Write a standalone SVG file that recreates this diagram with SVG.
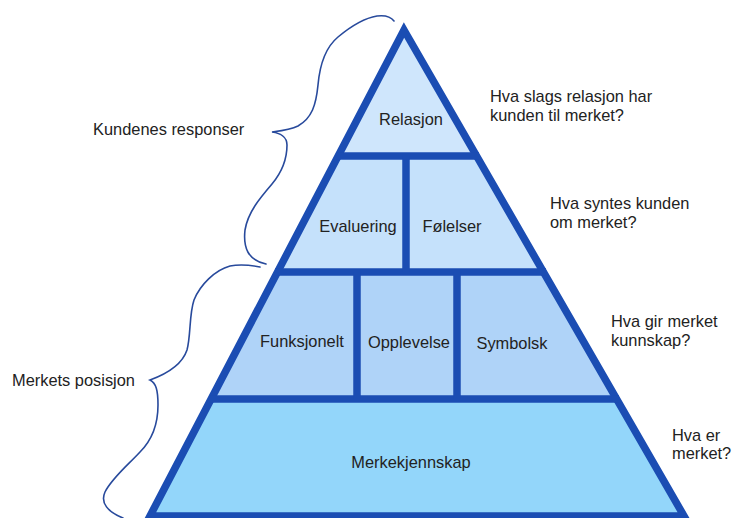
<svg xmlns="http://www.w3.org/2000/svg" width="733" height="518" viewBox="0 0 733 518">
<style>
text{font-family:"Liberation Sans",Arial,sans-serif;font-size:16.4px;fill:#222}
.c{text-anchor:middle}
.l1{fill:#cfe6fc}
.l2{fill:#c5e1fb}
.l3{fill:#afd3f8}
.l4{fill:#93d6fa}
.edge{fill:none;stroke:#1b4db3;stroke-width:7.5;stroke-linejoin:miter}
.brace{fill:none;stroke:#284a9c;stroke-width:1.6;stroke-linecap:round}
</style>
<rect width="733" height="518" fill="#ffffff"/>
<g id="relasjon">
<polygon class="l1" points="404,30 338,156 477,156"/>
<text class="c" x="411" y="125">Relasjon</text>
</g>
<g id="evaluering">
<polygon class="l2" points="338,156 406,156 406,272 277,272"/>
<text class="c" x="358" y="232">Evaluering</text>
</g>
<g id="folelser">
<polygon class="l2" points="406,156 477,156 544,272 406,272"/>
<text class="c" x="452" y="232">Følelser</text>
</g>
<g id="funksjonelt">
<polygon class="l3" points="277,272 357,272 357,399 211,399"/>
<text class="c" x="302" y="347">Funksjonelt</text>
</g>
<g id="opplevelse">
<polygon class="l3" points="357,272 457,272 457,399 357,399"/>
<text class="c" x="409" y="348">Opplevelse</text>
</g>
<g id="symbolsk">
<polygon class="l3" points="457,272 544,272 617,399 457,399"/>
<text class="c" x="512" y="349">Symbolsk</text>
</g>
<g id="merkekjennskap">
<polygon class="l4" points="211,399 617,399 684,516 150,516"/>
<text class="c" x="411" y="468">Merkekjennskap</text>
</g>
<g id="connectors">
<polygon class="edge" points="404,30 684,516 150,516"/>
<line class="edge" x1="336" y1="156" x2="479" y2="156"/>
<line class="edge" x1="275" y1="272" x2="546" y2="272"/>
<line class="edge" x1="209" y1="399" x2="619" y2="399"/>
<line class="edge" x1="406" y1="156" x2="406" y2="272"/>
<line class="edge" x1="357" y1="272" x2="357" y2="399"/>
<line class="edge" x1="457" y1="272" x2="457" y2="399"/>
<path class="brace" d="M394,21 C391,17 385,15 377,16 C365,18 350,27 338,37 C326,47 320,62 318,85 C316,105 312,118 298,126 C290,130 280,131 272,132 C280,133 287,137 287,145 C287,160 282,172 272,184 C260,198 248,212 245,230 C243,248 248,260 266,264"/>
<path class="brace" d="M260,267 C250,265 240,264 230,266 C215,270 200,285 194,300 C189,315 191,335 187,350 C183,362 172,372 150,380 C156,383 158,390 158,405 C158,425 152,440 140,452 C128,465 112,478 105,492 C100,503 108,512 123,518"/>
</g>
<g id="labels">
<text x="93" y="135">Kundenes responser</text>
<text x="12" y="386">Merkets posisjon</text>
<text x="490" y="102">Hva slags relasjon har</text>
<text x="490" y="121">kunden til merket?</text>
<text x="550" y="209">Hva syntes kunden</text>
<text x="550" y="228">om merket?</text>
<text x="611" y="327">Hva gir merket</text>
<text x="611" y="346">kunnskap?</text>
<text x="672" y="441">Hva er</text>
<text x="672" y="459">merket?</text>
</g>
</svg>
